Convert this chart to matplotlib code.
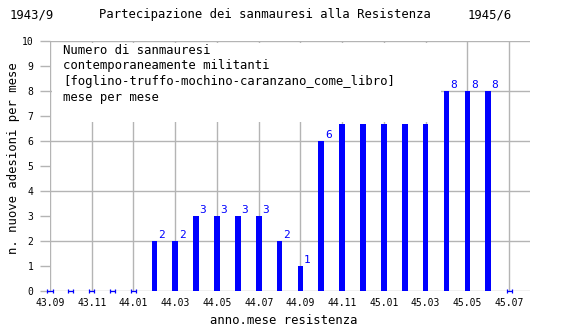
import matplotlib.pyplot as plt
from matplotlib.patches import Rectangle

# monthly data (anno.mese)
months = ['43.09', '43.10', '43.11', '43.12', '44.01', '44.02', '44.03', '44.04',
          '44.05', '44.06', '44.07', '44.08', '44.09', '44.10', '44.11', '44.12',
          '45.01', '45.02', '45.03', '45.04', '45.05', '45.06', '45.07']
values = [0, 0, 0, 0, 0, 2, 2, 3, 3, 3, 3, 2, 1, 6,
          6.7, 6.7, 6.7, 6.7, 6.7, 8, 8, 8, 0]
value_labels = ['', '', '', '', '', '2', '2', '3', '3', '3', '3', '2', '1', '6',
                '', '', '', '', '', '8', '8', '8', '']

plt.rcParams['font.family'] = ['DejaVu Sans Mono']

fig = plt.figure(figsize=(5.7, 3.3), dpi=100)
ax = fig.add_axes([50 / 570, 1 - 291 / 330, 480 / 570, 250 / 330])

index = list(range(len(months)))
grid_col = '#b4b4b4'

# bars
ax.bar(index, values, width=0.27, color='#0000ff', zorder=3)

# zero months drawn as small blue caps
zero_idx = [i for i, v in zip(index, values) if v == 0]
ax.errorbar(zero_idx, [0] * len(zero_idx), xerr=0.12, fmt='none', ecolor='#0000ff',
            elinewidth=0.9, capsize=1.6, capthick=0.9, zorder=4, clip_on=False)

# value labels
for i, v, lab in zip(index, values, value_labels):
    if lab:
        ax.annotate(lab, (i, v), xytext=(2.5, 0.5), textcoords='offset points',
                    ha='left', va='bottom', color='#0000ff', fontsize=8)

ax.set_xlim(0, 23)
ax.set_ylim(0, 10)

ax.set_xticks(index[::2])
ax.set_xticklabels(months[::2], fontsize=7)
ax.tick_params(axis='x', length=0, pad=5)

ax.set_yticks(range(0, 11, 2))
ax.set_yticks(range(1, 11, 2), minor=True)
ax.set_yticklabels([str(v) for v in range(0, 11, 2)], fontsize=7)
ax.set_yticklabels([str(v) for v in range(1, 11, 2)], minor=True, fontsize=7)
ax.tick_params(axis='y', which='both', length=7, color=grid_col, width=1, pad=5)

ax.grid(True, which='major', color=grid_col, linewidth=1)
ax.set_axisbelow(True)
for s in ax.spines.values():
    s.set_visible(False)

# white legend-like note
ax.add_patch(Rectangle((0.004, 0.676), 0.81, 0.316, transform=ax.transAxes,
                       facecolor='white', edgecolor='none', zorder=1))
ax.text(0.027, 0.988, 'Numero di sanmauresi\ncontemporaneamente militanti\n'
        '[foglino-truffo-mochino-caranzano_come_libro]\nmese per mese',
        transform=ax.transAxes, ha='left', va='top', fontsize=8.8,
        linespacing=1.25, zorder=2)

# titles
fig.text(10 / 570, 1 - 8 / 330, '1943/9', ha='left', va='top', fontsize=8.8)
fig.text(265 / 570, 1 - 8 / 330, 'Partecipazione dei sanmauresi alla Resistenza',
         ha='center', va='top', fontsize=8.8)
fig.text(512 / 570, 1 - 8 / 330, '1945/6', ha='right', va='top', fontsize=8.8)

fig.text(284 / 570, 1 - 320 / 330, 'anno.mese resistenza', ha='center', va='center',
         fontsize=8.8)
fig.text(14 / 570, 1 - 158 / 330, 'n. nuove adesioni per mese', ha='center',
         va='center', rotation=90, fontsize=8.8)

fig.savefig('out.png', dpi=100)
